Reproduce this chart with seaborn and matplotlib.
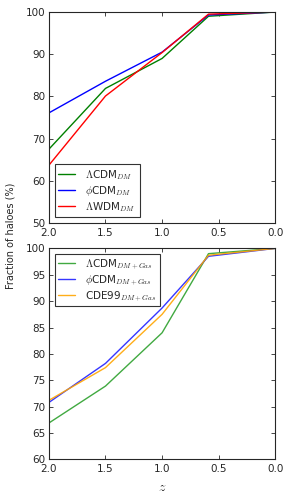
import numpy as np
import pandas as pd
import matplotlib
matplotlib.use('Agg')
import matplotlib.pyplot as plt
import seaborn as sns

# redshift sampling
z = [2.0, 1.5, 1.0, 0.59, 0.0]

# top panel: dark matter only
lcdm_dm = [67.5, 81.9, 89.0, 99.0, 100.0]
phicdm_dm = [76.1, 83.6, 90.5, 99.3, 100.0]
lwdm_dm = [63.7, 80.1, 90.4, 99.5, 100.0]

# bottom panel: dark matter + gas
lcdm_gas = [66.9, 73.9, 84.0, 99.0, 100.0]
phicdm_gas = [70.8, 78.2, 88.7, 98.5, 100.0]
cde99_gas = [71.2, 77.4, 87.5, 98.7, 100.0]

sns.set_style('ticks')
plt.rcParams['font.family'] = ['DejaVu Sans']
plt.rcParams['mathtext.fontset'] = 'cm'
plt.rcParams['xtick.direction'] = 'in'
plt.rcParams['ytick.direction'] = 'in'
plt.rcParams['xtick.top'] = True
plt.rcParams['ytick.right'] = True
plt.rcParams['font.size'] = 7

fig, (ax1, ax2) = plt.subplots(2, 1, figsize=(2.91, 5.01), dpi=100)
fig.subplots_adjust(left=0.168, right=0.946, top=0.976, bottom=0.083, hspace=0.12)

top = pd.DataFrame({'z': z, r'$\Lambda$CDM$_{DM}$': lcdm_dm,
                    r'$\phi$CDM$_{DM}$': phicdm_dm,
                    r'$\Lambda$WDM$_{DM}$': lwdm_dm})
bot = pd.DataFrame({'z': z, r'$\Lambda$CDM$_{DM+Gas}$': lcdm_gas,
                    r'$\phi$CDM$_{DM+Gas}$': phicdm_gas,
                    r'CDE99$_{DM+Gas}$': cde99_gas})

for col, c in zip(top.columns[1:], ['green', 'blue', 'red']):
    sns.lineplot(data=top, x='z', y=col, ax=ax1, color=c, lw=1, label=col)
for col, c in zip(bot.columns[1:], ['#2ca02c', '#2020ff', 'orange']):
    sns.lineplot(data=bot, x='z', y=col, ax=ax2, color=c, lw=1, label=col, alpha=0.9)

for ax in (ax1, ax2):
    ax.set_xlim(2.0, 0.0)
    ax.set_xticks([2.0, 1.5, 1.0, 0.5, 0.0])
    ax.set_xlabel('')
    ax.set_ylabel('')
    ax.tick_params(labelsize=7.5, length=3, width=0.6, pad=2.5)
    ax.tick_params(axis='x', pad=3.5)
    for s in ax.spines.values():
        s.set_linewidth(0.8)

ax1.set_ylim(50, 100)
ax1.set_yticks([50, 60, 70, 80, 90, 100])
ax2.set_ylim(60, 100)
ax2.set_yticks([60, 65, 70, 75, 80, 85, 90, 95, 100])

for ax, loc in ((ax1, 'lower left'), (ax2, 'upper left')):
    leg = ax.legend(loc=loc, fontsize=7.5, fancybox=False, frameon=True,
                    handlelength=1.6, handletextpad=1.0, borderpad=0.35,
                    labelspacing=0.2, borderaxespad=0.55)
    leg.get_frame().set_edgecolor('black')
    leg.get_frame().set_linewidth(0.8)

ax2.set_xlabel('$z$', fontsize=10, labelpad=4)
fig.text(0.035, 0.53, 'Fraction of haloes (%)', rotation=90, va='center', ha='center', fontsize=7)

plt.savefig('out.png', dpi=100)
